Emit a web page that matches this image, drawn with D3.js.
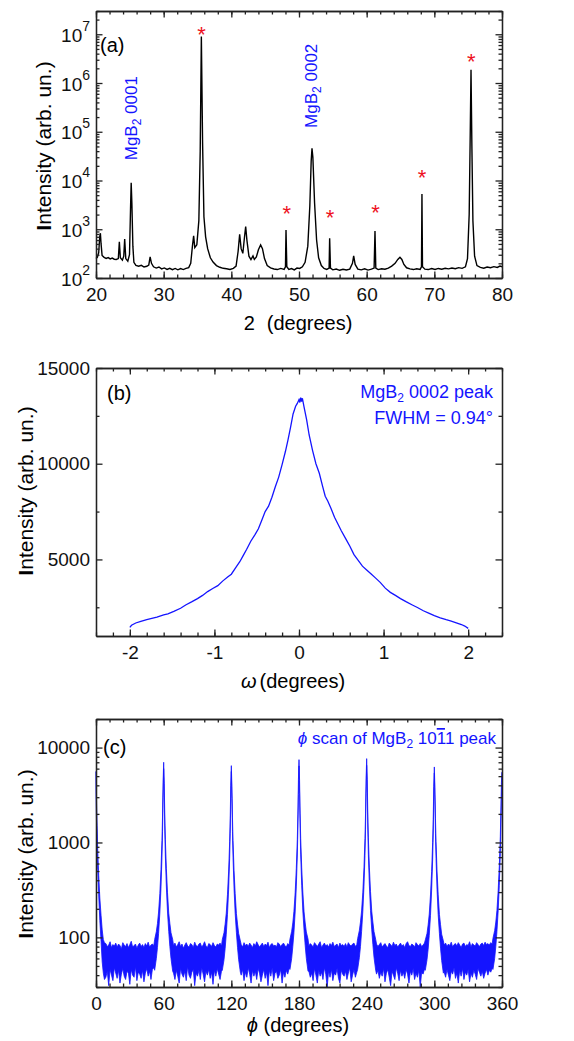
<!DOCTYPE html>
<html>
<head>
<meta charset="utf-8">
<script src="https://cdn.jsdelivr.net/npm/d3@7"></script>
<style>
body { margin: 0; background: #fff; }
svg text { font-family: "Liberation Sans", Arial, sans-serif; }
.axis path, .axis line { stroke: #222; stroke-width: 1.3; }
.axis text { font-size: 19px; fill: #111; }
</style>
</head>
<body>
<svg id="chart" width="574" height="1041"></svg>
<script>
// ---------- data ----------

// (a) theta-2theta scan: [2theta (deg), intensity]
const xrdScan = [
  [20.0, 250], [20.2, 265], [20.4, 330], [20.55, 700], [20.65, 830], [20.75, 500], [20.9, 290],
  [21.2, 265], [21.5, 252], [21.8, 262], [22.1, 246], [22.4, 256], [22.7, 243], [23.0, 240],
  [23.3, 250], [23.45, 556], [23.6, 260], [23.9, 232], [24.1, 280], [24.24, 630], [24.4, 250],
  [24.7, 222], [24.95, 300], [25.1, 2500], [25.2, 9000], [25.3, 3500], [25.45, 450], [25.6, 210],
  [25.9, 182], [26.3, 175], [26.7, 182], [27.1, 168], [27.5, 174], [27.8, 185], [28.0, 270],
  [28.2, 200], [28.5, 170], [28.9, 160], [29.3, 168], [29.7, 154], [30.1, 161], [30.5, 150],
  [30.9, 158], [31.3, 148], [31.7, 157], [32.1, 147], [32.5, 156], [32.9, 149], [33.3, 157],
  [33.7, 163], [34.0, 200], [34.25, 450], [34.43, 730], [34.6, 420], [34.9, 480], [35.2, 1500],
  [35.4, 40000], [35.57, 9.0e6], [35.75, 60000], [35.95, 1800], [36.2, 700], [36.5, 400],
  [36.9, 260], [37.3, 212], [37.8, 180], [38.3, 166], [38.8, 158], [39.3, 155], [39.8, 150],
  [40.3, 158], [40.7, 175], [41.0, 350], [41.23, 790], [41.45, 400], [41.7, 320], [41.95, 700],
  [42.12, 1130], [42.3, 600], [42.6, 280], [42.9, 238], [43.2, 283], [43.4, 240], [43.7, 270],
  [44.0, 380], [44.33, 476], [44.6, 400], [44.9, 250], [45.3, 180], [45.8, 162], [46.3, 153],
  [46.8, 149], [47.3, 157], [47.8, 150], [48.0, 170], [48.08, 970], [48.2, 170], [48.5, 150],
  [48.9, 156], [49.3, 147], [49.7, 160], [50.1, 157], [50.5, 170], [50.9, 210], [51.3, 450],
  [51.6, 3000], [51.8, 25000], [51.92, 46000], [52.05, 30000], [52.3, 3500], [52.6, 600],
  [52.9, 260], [53.3, 180], [53.7, 157], [54.1, 150], [54.45, 160], [54.53, 653], [54.65, 160],
  [55.0, 147], [55.5, 153], [56.0, 144], [56.5, 151], [57.0, 146], [57.5, 152], [57.9, 200],
  [58.08, 283], [58.3, 190], [58.7, 152], [59.2, 147], [59.7, 154], [60.2, 145], [60.7, 152],
  [61.1, 160], [61.23, 923], [61.35, 160], [61.7, 149], [62.2, 155], [62.7, 151], [63.2, 160],
  [63.7, 175], [64.2, 200], [64.6, 240], [64.92, 266], [65.2, 240], [65.5, 190], [65.9, 162],
  [66.4, 154], [66.9, 149], [67.4, 155], [67.9, 150], [68.1, 170], [68.17, 5300], [68.25, 170],
  [68.6, 152], [69.1, 149], [69.6, 156], [70.1, 150], [70.6, 157], [71.1, 151], [71.6, 158],
  [72.1, 154], [72.6, 160], [73.1, 155], [73.6, 163], [74.1, 158], [74.6, 170], [74.9, 250],
  [75.15, 2000], [75.3, 80000], [75.42, 1.86e6], [75.55, 50000], [75.7, 1500], [75.95, 280],
  [76.3, 180], [76.8, 165], [77.3, 159], [77.8, 168], [78.3, 162], [78.8, 171], [79.3, 165],
  [79.7, 176], [80.0, 170]
];
// red stars over the substrate peaks: [2theta, height of the star]
const substrateStars = [[35.6, 1.28e7], [48.2, 2700], [54.6, 2230], [61.3, 2830], [68.2, 14800], [75.45, 3.5e6]];
// rotated peak labels: [text, 2theta, where the text starts]
const filmPeakLabels = [['0001', 25.3, 2.6e4], ['0002', 51.9, 1.2e5]];
const xrdTicks = [20, 30, 40, 50, 60, 70, 80];
const xrdDecades = [2, 3, 4, 5, 6, 7];

// (b) rocking curve of MgB2 0002: [omega (deg), intensity]
const rockingCurve = [
  [-2.00, 1450], [-1.98, 1560], [-1.93, 1680], [-1.87, 1760], [-1.80, 1850], [-1.74, 1920],
  [-1.68, 1990], [-1.60, 2100], [-1.55, 2160], [-1.48, 2290], [-1.40, 2450], [-1.34, 2620],
  [-1.27, 2780], [-1.20, 2950], [-1.14, 3120], [-1.08, 3320], [-1.02, 3480], [-0.96, 3630],
  [-0.90, 3880], [-0.84, 4100], [-0.80, 4230], [-0.75, 4560], [-0.70, 4880], [-0.66, 5200],
  [-0.62, 5520], [-0.57, 5950], [-0.52, 6300], [-0.48, 6600], [-0.44, 7050], [-0.40, 7500],
  [-0.36, 7780], [-0.32, 8250], [-0.28, 8800], [-0.24, 9300], [-0.20, 9950], [-0.16, 10650],
  [-0.13, 11250], [-0.10, 11900], [-0.07, 12600], [-0.04, 13000], [-0.02, 13150], [0.00, 13350],
  [0.01, 13200], [0.02, 13450], [0.03, 13250], [0.04, 13420], [0.06, 12950], [0.09, 12300],
  [0.12, 11500], [0.16, 10700], [0.20, 10000], [0.24, 9500], [0.28, 8800], [0.31, 8300],
  [0.34, 8050], [0.38, 7650], [0.42, 7200], [0.46, 6850], [0.50, 6500], [0.55, 6100],
  [0.60, 5700], [0.65, 5250], [0.70, 4950], [0.75, 4650], [0.80, 4450], [0.85, 4250],
  [0.90, 4050], [0.96, 3800], [1.02, 3500], [1.08, 3280], [1.14, 3120], [1.20, 2950],
  [1.27, 2780], [1.34, 2620], [1.40, 2490], [1.47, 2320], [1.54, 2180], [1.60, 2060],
  [1.67, 1950], [1.74, 1850], [1.80, 1780], [1.86, 1690], [1.92, 1600], [1.96, 1520], [2.00, 1400]
];
const omegaTicks = [-2, -1, 0, 1, 2];
const rockingTicks = [5000, 10000, 15000];

// (c) phi scan of MgB2 10-11: [phi (deg), low edge, high edge] of the noisy trace
const phiScan = [
  [0, 3200, 5600], [0.5, 1500, 2600], [1, 900, 1500], [1.5, 520, 850], [2.4, 280, 450], [3.4, 150, 260],
  [4.5, 90, 170], [5.5, 55, 120], [6.5, 42, 95], [7.5, 36, 88],
  [8.75,38,86],[10,44,80],[11.25,31,83],[12.5,46,90],[13.75,40,78],[15,35,84],[16.25,48,81],[17.5,42,87],
  [18.75,37,79],[20,45,85],[21.25,33,82],[22.5,41,76],[23.75,47,88],[25,39,83],[26.25,36,80],[27.5,44,86],
  [28.75,42,78],[30,32,84],[31.25,46,91],[32.5,40,79],[33.75,38,82],[35,49,85],[36.25,35,77],[37.5,43,83],
  [38.75,41,87],[40,37,80],[41.25,45,84],[42.5,34,78],[43.75,42,86],[45,47,81],[46.25,39,89],[47.5,44,79],
  [48.75,36,83],[50,46,85],[51.25,48,82],
  [52, 45, 95], [53.5, 60, 115], [54.5, 78, 140], [55.5, 110, 185], [56.6, 180, 290], [57.6, 330, 520],
  [58.5, 700, 1050], [59, 1300, 1900], [59.5, 3000, 4300], [60, 6000, 7000], [60.5, 3100, 4200],
  [61, 1350, 1950], [61.5, 720, 1080], [62.4, 340, 530], [63.4, 185, 295], [64.5, 115, 180],
  [65.5, 80, 140], [66.5, 60, 112], [68, 44, 95],
  [68.75,42,82],[70,36,87],[71.25,45,79],[72.5,39,84],[73.75,33,90],[75,47,80],[76.25,41,85],[77.5,38,77],
  [78.75,44,83],[80,35,88],[81.25,49,81],[82.5,40,79],[83.75,37,86],[85,43,84],[86.25,46,78],[87.5,31,89],
  [88.75,42,82],[90,39,80],[91.25,45,85],[92.5,36,87],[93.75,48,79],[95,41,83],[96.25,34,90],[97.5,44,81],
  [98.75,40,78],[100,46,86],[101.25,37,84],[102.5,43,80],[103.75,32,88],[105,45,82],[106.25,39,79],
  [107.5,47,85],[108.75,41,83],[110,36,87],[111.25,44,81],
  [112, 45, 95], [113.5, 58, 112], [114.5, 76, 138], [115.5, 108, 180], [116.6, 175, 285], [117.6, 320, 500],
  [118.5, 680, 1020], [119, 1250, 1800], [119.5, 2800, 4000], [120, 5600, 6450], [120.5, 2900, 3900],
  [121, 1300, 1850], [121.5, 700, 1050], [122.4, 330, 510], [123.4, 180, 290], [124.5, 112, 178],
  [125.5, 78, 138], [126.5, 58, 110], [128, 43, 92],
  [128.75,40,84],[130,46,79],[131.25,35,88],[132.5,43,82],[133.75,38,85],[135,48,80],[136.25,41,87],
  [137.5,33,83],[138.75,45,78],[140,39,86],[141.25,44,81],[142.5,36,90],[143.75,47,84],[145,42,79],
  [146.25,34,83],[147.5,40,87],[148.75,46,80],[150,37,85],[151.25,43,82],[152.5,31,89],[153.75,45,78],
  [155,39,84],[156.25,48,86],[157.5,35,81],[158.75,42,83],[160,44,79],[161.25,37,88],[162.5,40,85],
  [163.75,46,80],[165,33,84],[166.25,43,87],[167.5,38,82],[168.75,45,79],[170,41,86],[171.25,47,83],
  [172, 46, 96], [173.5, 60, 116], [174.5, 80, 142], [175.5, 112, 188], [176.6, 185, 295], [177.6, 340, 530],
  [178.5, 720, 1080], [179, 1350, 1950], [179.5, 3200, 4600], [180, 6400, 7460], [180.5, 3300, 4500],
  [181, 1400, 2000], [181.5, 740, 1100], [182.4, 350, 540], [183.4, 190, 300], [184.5, 118, 185],
  [185.5, 82, 142], [186.5, 60, 114], [188, 44, 96],
  [188.75,44,81],[190,38,86],[191.25,42,83],[192.5,35,79],[193.75,47,88],[195,40,84],[196.25,33,80],
  [197.5,45,85],[198.75,39,90],[200,43,78],[201.25,36,83],[202.5,48,87],[203.75,41,81],[205,30,84],
  [206.25,44,79],[207.5,38,86],[208.75,46,82],[210,35,89],[211.25,42,80],[212.5,40,83],[213.75,47,85],
  [215,37,78],[216.25,33,87],[217.5,45,82],[218.75,41,84],[220,39,80],[221.25,44,86],[222.5,36,79],
  [223.75,42,88],[225,48,83],[226.25,34,81],[227.5,40,85],[228.75,46,87],[230,38,80],[231.25,43,84],
  [232, 46, 97], [233.5, 61, 118], [234.5, 80, 145], [235.5, 115, 190], [236.6, 188, 300], [237.6, 345, 540],
  [238.5, 730, 1100], [239, 1380, 2000], [239.5, 3300, 4700], [240, 6500, 7650], [240.5, 3350, 4600],
  [241, 1420, 2050], [241.5, 750, 1120], [242.4, 355, 550], [243.4, 192, 305], [244.5, 120, 188],
  [245.5, 84, 145], [246.5, 62, 115], [248, 45, 95],
  [248.75,41,85],[250,45,80],[251.25,37,84],[252.5,43,88],[253.75,39,79],[255,47,83],[256.25,34,86],
  [257.5,42,81],[258.75,46,78],[260,38,87],[261.25,31,84],[262.5,44,80],[263.75,40,89],[265,36,82],
  [266.25,48,85],[267.5,42,79],[268.75,35,83],[270,45,87],[271.25,39,81],[272.5,43,84],[273.75,37,78],
  [275,46,86],[276.25,41,90],[277.5,33,82],[278.75,44,80],[280,40,85],[281.25,47,83],[282.5,36,79],
  [283.75,42,88],[285,38,84],[286.25,45,81],[287.5,30,86],[288.75,43,80],[290,41,83],[291.25,46,87],
  [292, 45, 94], [293.5, 58, 110], [294.5, 75, 135], [295.5, 105, 176], [296.6, 170, 280], [297.6, 315, 495],
  [298.5, 660, 1000], [299, 1200, 1750], [299.5, 2700, 3900], [300, 5400, 6250], [300.5, 2800, 3800],
  [301, 1250, 1800], [301.5, 680, 1030], [302.4, 320, 500], [303.4, 175, 285], [304.5, 110, 175],
  [305.5, 77, 136], [306.5, 57, 108], [308, 42, 92],
  [308.75,43,83],[310,38,87],[311.25,46,80],[312.5,40,85],[313.75,35,82],[315,44,89],[316.25,41,79],
  [317.5,48,84],[318.75,37,86],[320,42,81],[321.25,33,88],[322.5,45,83],[323.75,39,78],[325,47,85],
  [326.25,36,87],[327.5,43,80],[328.75,40,84],[330,46,82],[331.25,34,90],[332.5,42,79],[333.75,38,86],
  [335,45,83],[336.25,41,81],[337.5,36,88],[338.75,47,84],[340,43,80],[341.25,39,85],[342.5,44,87],
  [343.75,37,82],[345,42,89],[346.25,46,84],[347.5,40,86],[348.75,45,83],[350,43,88],[351.25,47,85],
  [352, 46, 98], [353.5, 60, 118], [354.5, 80, 145], [355.5, 115, 192], [356.6, 190, 310], [357.6, 350, 560],
  [358.5, 760, 1150], [359, 1450, 2100], [359.5, 3000, 4300], [360, 4500, 5500]
];
const phiTicks = [0, 60, 120, 180, 240, 300, 360];
const phiDecades = [100, 1000, 10000];

// ---------- layout ----------
const svg = d3.select('#chart');
const blue = '#1414ff';
const plotW = 406, plotH = 268;

// minor ticks at 2..9 of each decade
function logMinors(lo, hi) {
  let out = [];
  for (let e = Math.floor(Math.log10(lo)); e <= Math.ceil(Math.log10(hi)); e++) {
    for (let k = 2; k <= 9; k++) {
      let v = k * Math.pow(10, e);
      if (v >= lo && v <= hi) out.push(v);
    }
  }
  return out;
}

// four-sided frame, all ticks pointing inside
function drawFrame(g, x, y, xMajor, xMinor, yMajor, yMinor, showYLabels) {
  const h = y.range()[0], w = x.range()[1];
  let axes = [
    [d3.axisBottom, x, 'translate(0,' + h + ')', xMajor, xMinor, true, 9.5],
    [d3.axisTop, x, 'translate(0,0)', xMajor, xMinor, false, 6],
    [d3.axisLeft, y, 'translate(0,0)', yMajor, yMinor, showYLabels, 6],
    [d3.axisRight, y, 'translate(' + w + ',0)', yMajor, yMinor, false, 6]
  ];
  axes.forEach(function(a) {
    g.append('g').attr('class', 'axis').attr('transform', a[2])
      .call(a[0](a[1]).tickValues(a[4]).tickSize(-3.5).tickSizeOuter(0).tickFormat(''));
    g.append('g').attr('class', 'axis').attr('transform', a[2])
      .call(a[0](a[1]).tickValues(a[3]).tickSize(-6.5).tickSizeOuter(0)
        .tickPadding(a[6])
        .tickFormat(a[5] ? (d => String(d)) : ''));
  });
}

function yTitle(x, yc) {
  let t = svg.append('text')
    .attr('transform', 'translate(' + x + ',' + yc + ') rotate(-90)')
    .attr('text-anchor', 'middle')
    .style('font-size', '21px');
  t.append('tspan').attr('font-weight', 'bold').text('I');
  t.append('tspan').text('ntensity (arb. un.)');
}

// ---------- (a) ----------
let gA = svg.append('g').attr('transform', 'translate(96,11)');
let xA = d3.scaleLinear().domain([20, 80]).range([0, plotW]);
let yA = d3.scaleLog().domain([100, 3e7]).range([267, 0]);

gA.append('path')
  .datum(xrdScan)
  .attr('fill', 'none')
  .attr('stroke', '#000')
  .attr('stroke-width', 1.4)
  .attr('d', d3.line().x(d => xA(d[0])).y(d => yA(d[1])));

drawFrame(gA, xA, yA, xrdTicks, d3.range(20, 80.1, 2), xrdDecades.map(e => Math.pow(10, e)), logMinors(100, 3e7), false);

// 10^n labels
xrdDecades.forEach(function(e) {
  let t = gA.append('text')
    .attr('x', -6)
    .attr('y', yA(Math.pow(10, e)) + 7.5)
    .attr('text-anchor', 'end')
    .style('font-size', '19px')
    .style('fill', '#111');
  t.append('tspan').text('10');
  t.append('tspan').attr('dy', -10.8).style('font-size', '14px').text(e);
});

// substrate stars
gA.selectAll('.star').data(substrateStars).enter().append('text')
  .attr('class', 'star')
  .attr('x', d => xA(d[0]))
  .attr('y', d => yA(d[1]))
  .attr('dy', '0.57em')
  .attr('text-anchor', 'middle')
  .style('font-size', '22px')
  .style('fill', '#ee1122')
  .text('*');

// MgB2 peak labels (rotated)
filmPeakLabels.forEach(function(d) {
  let t = gA.append('text')
    .attr('transform', 'translate(' + (xA(d[1]) + 5) + ',' + yA(d[2]) + ') rotate(-90)')
    .style('font-size', '17px')
    .style('fill', blue);
  t.append('tspan').text('MgB');
  t.append('tspan').attr('dy', 4).style('font-size', '12px').text('2');
  t.append('tspan').attr('dy', -4).text(' ' + d[0]);
});

gA.append('text').attr('x', 4).attr('y', 41).style('font-size', '20px').text('(a)');

let tA = svg.append('text').attr('x', 298).attr('y', 330)
  .attr('text-anchor', 'middle').style('font-size', '20px');
tA.append('tspan').text('2');
tA.append('tspan').attr('dx', 12).text('(degrees)');
yTitle(51, 146);

// ---------- (b) ----------
let gB = svg.append('g').attr('transform', 'translate(96,368)');
let xB = d3.scaleLinear().domain([-2.4, 2.4]).range([0, plotW]);
let yB = d3.scaleLinear().domain([1000, 15000]).range([plotH, 0]);

gB.append('path')
  .datum(rockingCurve)
  .attr('fill', 'none')
  .attr('stroke', blue)
  .attr('stroke-width', 1.3)
  .attr('d', d3.line().x(d => xB(d[0])).y(d => yB(d[1])));

drawFrame(gB, xB, yB, omegaTicks, d3.range(-2.4, 2.41, 0.2).map(v => +v.toFixed(1)), rockingTicks, [2500, 7500, 12500], true);

gB.append('text').attr('x', 11).attr('y', 32).style('font-size', '20px').text('(b)');
let nB = gB.append('text').attr('x', 397).attr('y', 30).attr('text-anchor', 'end')
  .style('font-size', '18px').style('fill', blue);
nB.append('tspan').text('MgB');
nB.append('tspan').attr('dy', 4).style('font-size', '12px').text('2');
nB.append('tspan').attr('dy', -4).text(' 0002 peak');
gB.append('text').attr('x', 397).attr('y', 56).attr('text-anchor', 'end')
  .style('font-size', '18px').style('fill', blue).text('FWHM = 0.94°');

let tB = svg.append('text').attr('x', 293).attr('y', 688)
  .attr('text-anchor', 'middle').style('font-size', '20px');
tB.append('tspan').style('font-style', 'italic').text('ω');
tB.append('tspan').attr('dx', 3).text('(degrees)');
yTitle(33, 491);

// ---------- (c) ----------
let gC = svg.append('g').attr('transform', 'translate(96,719)');
let xC = d3.scaleLinear().domain([0, 360]).range([0, plotW]);
let yC = d3.scaleLog().domain([30, 20000]).range([plotH, 0]);

gC.append('path')
  .datum(phiScan)
  .attr('fill', blue)
  .attr('stroke', blue)
  .attr('stroke-width', 0.8)
  .attr('d', d3.area().x(d => xC(d[0])).y0(d => yC(d[1])).y1(d => yC(d[2])));

drawFrame(gC, xC, yC, phiTicks, d3.range(0, 361, 12), phiDecades, logMinors(30, 20000), true);

gC.append('text').attr('x', 7).attr('y', 35).style('font-size', '20px').text('(c)');
let nC = gC.append('text').attr('x', 400).attr('y', 25).attr('text-anchor', 'end')
  .style('font-size', '17px').style('fill', blue);
nC.append('tspan').style('font-style', 'italic').text('ϕ');
nC.append('tspan').text(' scan of MgB');
nC.append('tspan').attr('dy', 4).style('font-size', '12px').text('2');
nC.append('tspan').attr('dy', -4).text(' 10');
nC.append('tspan').style('text-decoration', 'overline').text('1');
nC.append('tspan').text('1 peak');

let tC = svg.append('text').attr('x', 298).attr('y', 1032)
  .attr('text-anchor', 'middle').style('font-size', '20px');
tC.append('tspan').style('font-style', 'italic').text('ϕ');
tC.append('tspan').text(' (degrees)');
yTitle(33, 854);
</script>
</body>
</html>
